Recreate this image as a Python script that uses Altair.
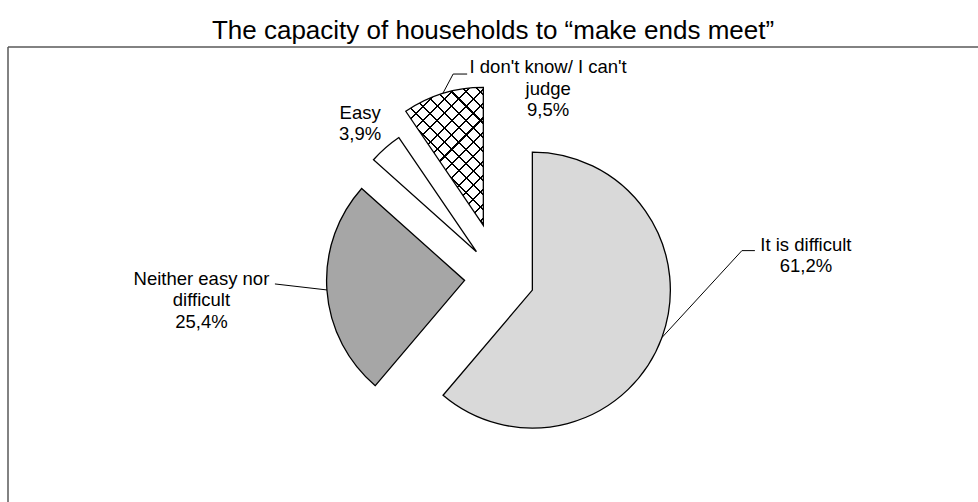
import math
import altair as alt
import pandas as pd

# ---------------- data ----------------
categories = ["It is difficult", "Neither easy nor difficult", "Easy", "I don't know/ I can't judge"]
values = [61.2, 25.4, 3.9, 9.5]
label_names = ["It is difficult", "Neither easy nor\ndifficult", "Easy", "I don't know/ I can't\njudge"]
title_text = "The capacity of households to \u201cmake ends meet\u201d"

# ---------------- style ----------------
W, H = 970, 455          # plot area (frame) size
PAD_L, PAD_T = 8, 47
CX, CY = 491.5, 231      # pie centre inside the frame
R = 138                  # pie radius
fills = ["#d9d9d9", "#a6a6a6", "#ffffff", "#ffffff"]
explode = [35, 35, 35, 55]
has_leader = [1, 1, 0, 1]
leader_elbow = [(80, -87), (-52, -6), (0, 0), (10.4, -19.5)]
leader_end = [(93, -87), (-52, -6), (0, 0), (24.4, -19.5)]
label_off = [(144, -87), (-125.5, -5), (-25.4, -29), (105.4, -20.5)]
FONT = "Liberation Sans"
LABEL_SIZE = 18.5
LINE_H = 21.5


def pct(v):
    return f"{v:.1f}".replace(".", ",") + "%"


df = pd.DataFrame({
    "category": categories,
    "value": values,
    "order": list(range(len(categories))),
    "label": [f"{n}\n{pct(v)}" for n, v in zip(label_names, values)],
    "explode": explode,
    "has_leader": has_leader,
    "e1x": [p[0] for p in leader_elbow], "e1y": [p[1] for p in leader_elbow],
    "e2x": [p[0] for p in leader_end], "e2y": [p[1] for p in leader_end],
    "tdx": [p[0] for p in label_off], "tdy": [p[1] for p in label_off],
})

# bounding box of the hatched wedge (for the pattern gradient)
total = sum(values)
a0 = sum(values[:3]) / total * 2 * math.pi
a1 = 2 * math.pi
pts = [(0.0, 0.0)]
steps = 60
for i in range(steps + 1):
    a = a0 + (a1 - a0) * i / steps
    pts.append((R * math.sin(a), -R * math.cos(a)))
bw = max(p[0] for p in pts) - min(p[0] for p in pts)
bh = max(p[1] for p in pts) - min(p[1] for p in pts)
k = (bw + bh) / (bw * bw + bh * bh)
span = (bw + bh) / math.sqrt(2)
CLEAR = "rgba(0,0,0,0)"


def stripes(n, lw):
    hw = lw / span / 2
    stops = [{"offset": 0, "color": CLEAR}]
    for i in range(n):
        c = (i + 0.5) / n
        stops += [
            {"offset": round(c - hw, 5), "color": CLEAR},
            {"offset": round(c - hw, 5), "color": "#000000"},
            {"offset": round(c + hw, 5), "color": "#000000"},
            {"offset": round(c + hw, 5), "color": CLEAR},
        ]
    stops.append({"offset": 1, "color": CLEAR})
    return stops


n_str = int(round(span / 10))
grad1 = {"gradient": "linear", "x1": 0, "y1": 0, "x2": round(k * bw, 4), "y2": round(k * bh, 4),
         "stops": stripes(n_str, 1.5)}
grad2 = {"gradient": "linear", "x1": 0, "y1": 1, "x2": round(k * bw, 4), "y2": round(1 - k * bh, 4),
         "stops": stripes(n_str, 1.5)}

base = (
    alt.Chart(df)
    .transform_joinaggregate(total="sum(value)")
    .transform_window(cum="sum(value)", sort=[alt.SortField("order")], frame=[None, 0])
    .transform_calculate(mid="(datum.cum - datum.value / 2) / datum.total * 2 * PI")
    .transform_calculate(cx=f"{CX} + datum.explode * sin(datum.mid)")
    .transform_calculate(cy=f"{CY} - datum.explode * cos(datum.mid)")
    .transform_calculate(sx=f"datum.cx + {R} * sin(datum.mid)")
    .transform_calculate(sy=f"datum.cy - {R} * cos(datum.mid)")
    .transform_calculate(ex1="datum.sx + datum.e1x", ey1="datum.sy + datum.e1y")
    .transform_calculate(ex2="datum.sx + datum.e2x", ey2="datum.sy + datum.e2y")
    .transform_calculate(tx="datum.sx + datum.tdx", ty="datum.sy + datum.tdy")
)

pos = dict(
    theta=alt.Theta("value:Q", stack=True),
    order=alt.Order("order:Q"),
    x=alt.X("cx:Q", scale=None),
    y=alt.Y("cy:Q", scale=None),
)

arcs = base.mark_arc(outerRadius=R, stroke="black", strokeWidth=1.3).encode(
    fill=alt.Fill("category:N", scale=alt.Scale(domain=categories, range=fills), legend=None),
    **pos,
)
hatch1 = base.mark_arc(outerRadius=R, strokeWidth=0).encode(
    fill=alt.condition(alt.datum.order == 3, alt.value(grad1), alt.value(CLEAR)), **pos
)
hatch2 = base.mark_arc(outerRadius=R, strokeWidth=0).encode(
    fill=alt.condition(alt.datum.order == 3, alt.value(grad2), alt.value(CLEAR)), **pos
)

leaders = base.transform_filter("datum.has_leader == 1")
rule1 = leaders.mark_rule(color="black", strokeWidth=1).encode(
    x=alt.X("sx:Q", scale=None), y=alt.Y("sy:Q", scale=None), x2="ex1:Q", y2="ey1:Q"
)
rule2 = leaders.mark_rule(color="black", strokeWidth=1).encode(
    x=alt.X("ex1:Q", scale=None), y=alt.Y("ey1:Q", scale=None), x2="ex2:Q", y2="ey2:Q"
)

labels = base.mark_text(
    font=FONT, fontSize=LABEL_SIZE, lineBreak="\n", lineHeight=LINE_H,
    align="center", baseline="alphabetic", color="black",
).encode(x=alt.X("tx:Q", scale=None), y=alt.Y("ty:Q", scale=None), text="label:N")

frame_df = pd.DataFrame({"f": [0]})
frame_top = alt.Chart(frame_df).mark_rule(color="#595959", strokeWidth=1.5).encode(
    x=alt.value(0), x2=alt.value(W), y=alt.value(0)
)
frame_left = alt.Chart(frame_df).mark_rule(color="#595959", strokeWidth=1.5).encode(
    x=alt.value(0), y=alt.value(0), y2=alt.value(H)
)

chart = (
    alt.layer(frame_top, frame_left, arcs, hatch1, hatch2, rule1, rule2, labels)
    .properties(
        width=W,
        height=H,
        padding={"left": PAD_L, "top": PAD_T, "right": 0, "bottom": 0},
        autosize=alt.AutoSizeParams(type="none"),
        title=alt.TitleParams(
            text=title_text, font=FONT, fontSize=26, fontWeight="normal", color="black",
            anchor="middle", frame="group", baseline="alphabetic", offset=10, dy=29,
        ),
    )
    .configure_view(stroke="transparent")
)

chart.save("out.html", embed_options={"renderer": "svg", "actions": False})
